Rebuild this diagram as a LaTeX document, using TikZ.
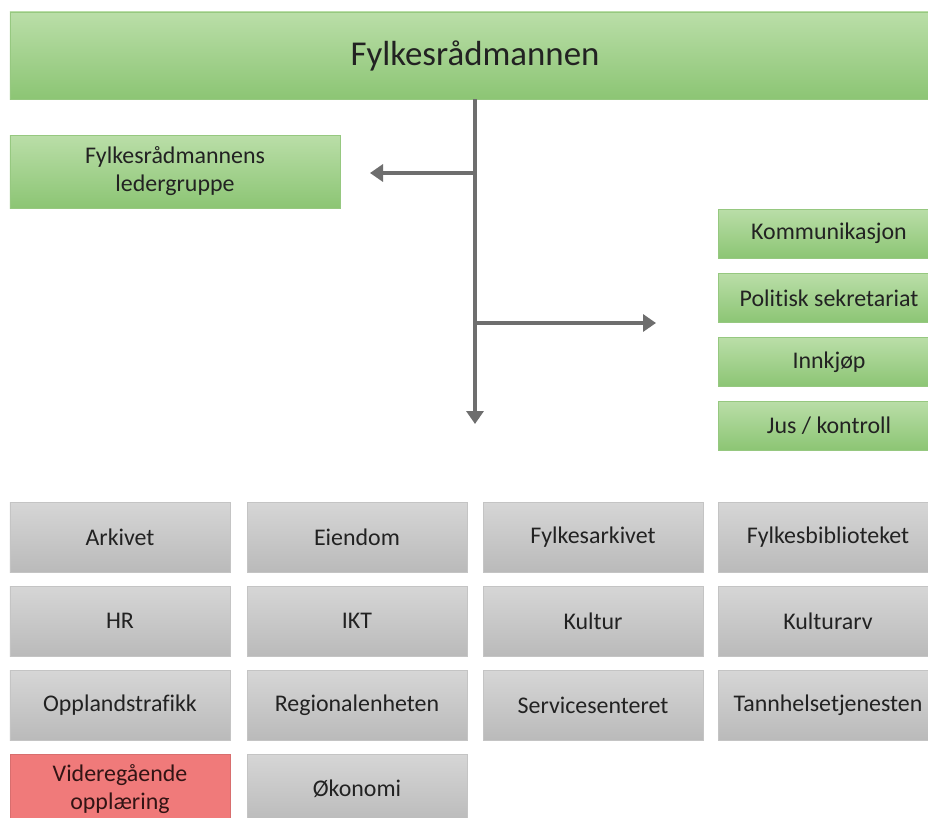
\documentclass[tikz,border=0pt]{standalone}
\usepackage{fontspec}
\setmainfont[Ligatures={NoCommon}]{Carlito}
\usetikzlibrary{arrows.meta}
\definecolor{gtop}{RGB}{186,222,168}
\definecolor{gbot}{RGB}{140,197,116}
\definecolor{gedge}{RGB}{150,200,128}
\definecolor{ytop}{RGB}{214,214,214}
\definecolor{ybot}{RGB}{186,186,186}
\definecolor{yedge}{RGB}{196,196,196}
\definecolor{rfill}{RGB}{240,122,122}
\definecolor{txt}{RGB}{34,34,34}
\definecolor{conn}{RGB}{110,110,110}
\begin{document}
\begin{tikzpicture}[x=1bp,y=-1bp,
  base/.style={inner sep=0pt, align=center, text=txt, line width=0.6bp,
    font=\fontsize{24}{28}\selectfont},
  greenbox/.style={base, draw=gedge, top color=gtop, bottom color=gbot},
  graybox/.style={base, draw=yedge, top color=ytop, bottom color=ybot,
    minimum width=220bp, minimum height=70bp},
  redbox/.style={base, draw=rfill!90!black, fill=rfill, text={rgb,255:red,50;green,20;blue,20},
    minimum width=220bp, minimum height=70bp},
  sidebox/.style={greenbox, minimum width=222bp, minimum height=49bp},
  conline/.style={draw=conn, line width=4bp},
  contip/.style={conline, -{Triangle[length=13bp,width=17bp]}}
]
\useasboundingbox (0,0) rectangle (928,818);
\clip (0,0) rectangle (928,818);
\fill[white] (0,0) rectangle (928,818);

% top
\node[greenbox, minimum width=930bp, minimum height=87bp,
  font=\fontsize{35}{40}\selectfont] (top) at (475,55.5) {Fylkesrådmannen};
\node[greenbox, minimum width=330bp, minimum height=73bp] (leder) at (175,171.5)
  {Fylkesrådmannens\\ledergruppe};

% side boxes
\node[sidebox] (kom) at (829,233.5) {Kommunikasjon};
\node[sidebox] (pol) at (829,298) {Politisk sekretariat};
\node[sidebox] (inn) at (829,362) {Innkjøp};
\node[sidebox] (jus) at (829,425.5) {Jus / kontroll};

% connectors
\coordinate (jl) at (475,173);
\coordinate (jr) at (475,323);
\coordinate (el) at (370,173);
\coordinate (er) at (656,323);
\coordinate (ed) at (475,424);
\draw[contip] (top.south) -- (ed);
\draw[contip] (jl) -- (el);
\draw[contip] (jr) -- (er);

% grid
\node[graybox] (ark) at (120,537) {Arkivet};
\node[graybox] (eie) at (357,537) {Eiendom};
\node[graybox] (fark) at (593,537) {Fylkesarkivet};
\node[graybox] (fbib) at (828,537) {Fylkesbiblioteket};
\node[graybox] (hr) at (120,621) {HR};
\node[graybox] (ikt) at (357,621) {IKT};
\node[graybox] (kul) at (593,621) {Kultur};
\node[graybox] (karv) at (828,621) {Kulturarv};
\node[graybox] (opp) at (120,705) {Opplandstrafikk};
\node[graybox] (reg) at (357,705) {Regionalenheten};
\node[graybox] (ser) at (593,705) {Servicesenteret};
\node[graybox] (tan) at (828,705) {Tannhelsetjenesten};
\node[redbox] (vid) at (120,789) {Videregående\\opplæring};
\node[graybox] (oko) at (357,789) {Økonomi};
\end{tikzpicture}
\end{document}
